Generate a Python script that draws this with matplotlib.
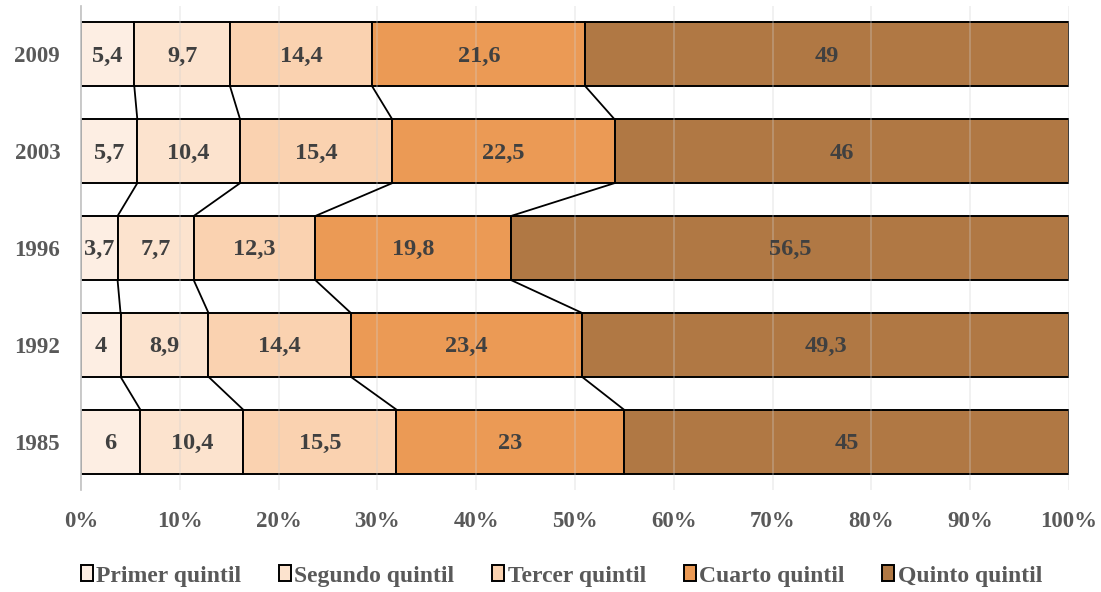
import numpy as np
import matplotlib
matplotlib.use("Agg")
import matplotlib.pyplot as plt
from matplotlib.ticker import FuncFormatter

years = ["1985", "1992", "1996", "2003", "2009"]
series_names = ["Primer quintil", "Segundo quintil", "Tercer quintil", "Cuarto quintil", "Quinto quintil"]
primer = [6, 4, 3.7, 5.7, 5.4]
segundo = [10.4, 8.9, 7.7, 10.4, 9.7]
tercer = [15.5, 14.4, 12.3, 15.4, 14.4]
cuarto = [23, 23.4, 19.8, 22.5, 21.6]
quinto = [45, 49.3, 56.5, 46, 49]
colors = ["#FDEEE3", "#FCE3CE", "#FAD2B0", "#EB9A55", "#B07844"]

plt.rcParams["font.family"] = ["Liberation Serif", "DejaVu Serif"]
plt.rcParams["font.weight"] = "bold"

data = np.array([primer, segundo, tercer, cuarto, quinto], dtype=float)
shares = data / data.sum(axis=0) * 100.0

fig = plt.figure(figsize=(11.01, 5.92), dpi=100)
ax = fig.add_axes([81 / 1101, 1 - 490 / 592, (1069 - 81) / 1101, (490 - 6) / 592])

y = np.arange(len(years))
height = 0.66
left = np.zeros(len(years))
for vals, pct, name, c in zip(data, shares, series_names, colors):
    ax.barh(y, pct, left=left, height=height, color=c, edgecolor="black",
            linewidth=1.4, label=name, zorder=2)
    for yi, (l, p, v) in enumerate(zip(left, pct, vals)):
        txt = f"{v:g}".replace(".", ",")
        ax.text(l + p / 2, yi - 0.02, txt, ha="center", va="center", fontsize=17.5,
                color="#404040", fontweight="bold", zorder=4)
    left = left + pct

# series lines joining segment boundaries between adjacent bars
cum = np.cumsum(shares, axis=0)
for k in range(cum.shape[0] - 1):
    for i in range(len(years) - 1):
        ax.plot([cum[k, i], cum[k, i + 1]], [i + height / 2, i + 1 - height / 2],
                color="black", linewidth=1.3, zorder=3)

ax.set_xlim(0, 100)
ax.set_ylim(-0.5, len(years) - 0.5)
ax.set_xticks(np.arange(0, 101, 10))
ax.xaxis.set_major_formatter(FuncFormatter(lambda v, _: f"{v:.0f}%"))
ax.set_yticks(y)
ax.set_yticklabels(years)
ax.grid(axis="x", color="#D0D0D0", linewidth=1.2, alpha=0.35, zorder=3)
ax.set_axisbelow(False)
for s in ["top", "right", "bottom"]:
    ax.spines[s].set_visible(False)
ax.spines["left"].set_color("#BFBFBF")
ax.spines["left"].set_linewidth(1.2)
ax.tick_params(axis="both", length=0, labelsize=16.5, labelcolor="#595959")
ax.tick_params(axis="x", pad=15)
ax.tick_params(axis="y", pad=15)
for lbl in ax.get_xticklabels() + ax.get_yticklabels():
    lbl.set_fontweight("bold")

leg = fig.legend(loc="center", bbox_to_anchor=(0.51, 0.027), ncol=5, frameon=False,
                 fontsize=17, handlelength=0.5, handleheight=0.65, handletextpad=0.15,
                 columnspacing=1.6, labelcolor="#595959")
for h in leg.legend_handles:
    h.set_linewidth(1.4)

fig.savefig("out.png", dpi=100)
